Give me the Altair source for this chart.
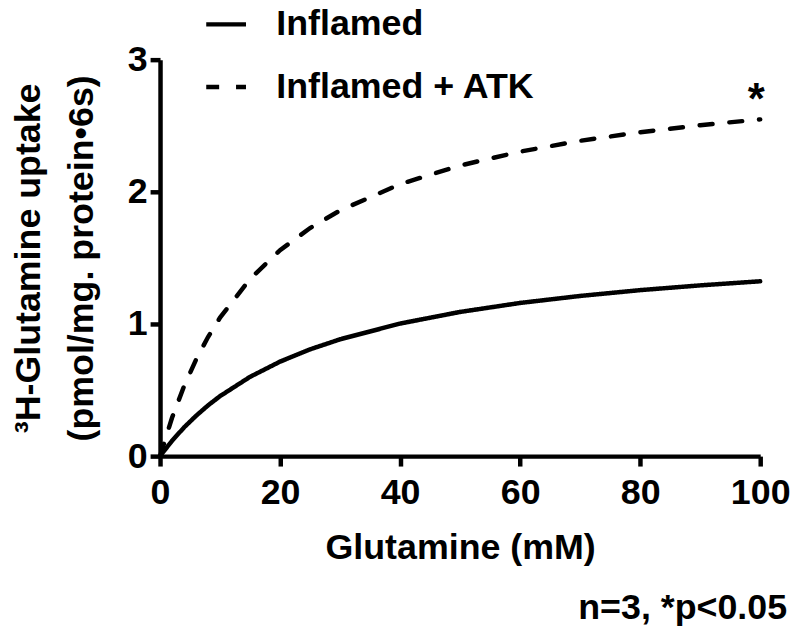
import altair as alt
import pandas as pd

glutamine = [0, 2, 4, 6, 8, 10, 15, 20, 25, 30, 40, 50, 60, 70, 80, 90, 100]
# 3H-Glutamine uptake (pmol/mg protein per 6 s)
inflamed = [0.0, 0.116, 0.217, 0.305, 0.384, 0.454, 0.600, 0.715, 0.808, 0.884,
            1.003, 1.091, 1.159, 1.212, 1.256, 1.292, 1.323]
inflamed_atk = [0.0, 0.290, 0.529, 0.730, 0.901, 1.048, 1.341, 1.558, 1.726, 1.859,
                2.058, 2.199, 2.304, 2.386, 2.451, 2.504, 2.548]

series_names = ["Inflamed", "Inflamed + ATK"]
x_ticks = [0, 20, 40, 60, 80, 100]
y_ticks = [0, 1, 2, 3]
star_point = {"x": [100], "y": [2.548], "label": ["*"]}
note_text = ["n=3, *p<0.05"]

FONT = "Liberation Sans"

rows = []
for g, a, b in zip(glutamine, inflamed, inflamed_atk):
    rows.append({"Glutamine": g, "Uptake": a, "Series": series_names[0]})
    rows.append({"Glutamine": g, "Uptake": b, "Series": series_names[1]})
df = pd.DataFrame(rows)

x_enc = alt.X(
    "Glutamine:Q",
    scale=alt.Scale(domain=[0, 100], nice=False),
    axis=alt.Axis(values=x_ticks, format="d", title="Glutamine (mM)",
                  labelPadding=10, titlePadding=20, labelFlush=False),
)
y_enc = alt.Y(
    "Uptake:Q",
    scale=alt.Scale(domain=[0, 3], nice=False),
    axis=alt.Axis(
        values=y_ticks,
        format="d",
        title=["³H-Glutamine uptake", "(pmol/mg. protein•6s)"],
        labelPadding=3,
        labelFlush=False,
        titlePadding=27,
        titleLineHeight=53,
    ),
)

lines = alt.Chart(df).mark_line(strokeWidth=4.5, color="black", strokeCap="round").encode(
    x=x_enc,
    y=y_enc,
    strokeDash=alt.StrokeDash(
        "Series:N",
        scale=alt.Scale(domain=series_names, range=[[1, 0], [13, 17]]),
        legend=alt.Legend(
            title=None,
            orient="none",
            legendX=44,
            legendY=-58,
            symbolType="stroke",
            symbolSize=1600,
            symbolStrokeWidth=4.5,
            symbolStrokeColor="black",
            symbolDash=[17, 8],
            labelFontSize=36,
            labelFont=FONT,
            labelFontWeight="bold",
            labelColor="black",
            labelOffset=28,
            labelLimit=500,
            rowPadding=22,
            padding=0,
        ),
    ),
    order="Glutamine:Q",
)

star = alt.Chart(pd.DataFrame(star_point)).mark_text(
    fontSize=44, font=FONT, fontWeight="bold", color="black",
    baseline="middle", align="center", dx=-4, dy=-18,
).encode(x="x:Q", y="y:Q", text="label:N")

note = alt.Chart(pd.DataFrame({"note": note_text})).mark_text(
    fontSize=36, font=FONT, fontWeight="bold", color="black",
    align="right", baseline="middle",
).encode(x=alt.value(631), y=alt.value(552), text="note:N")

chart = alt.layer(lines, star, note).properties(
    width=604,
    height=399,
    autosize=alt.AutoSizeParams(type="none"),
    padding={"left": 153, "top": 50, "right": 32, "bottom": 172},
).configure_view(stroke=None).configure_axis(
    grid=False,
    domainColor="black",
    domainWidth=4.5,
    tickColor="black",
    tickWidth=4.5,
    tickSize=10,
    labelFont=FONT,
    labelFontSize=36,
    labelFontWeight="bold",
    labelColor="black",
    titleFont=FONT,
    titleFontSize=36,
    titleFontWeight="bold",
    titleColor="black",
)

chart.save("out.html", embed_options={"renderer": "svg", "actions": False})
